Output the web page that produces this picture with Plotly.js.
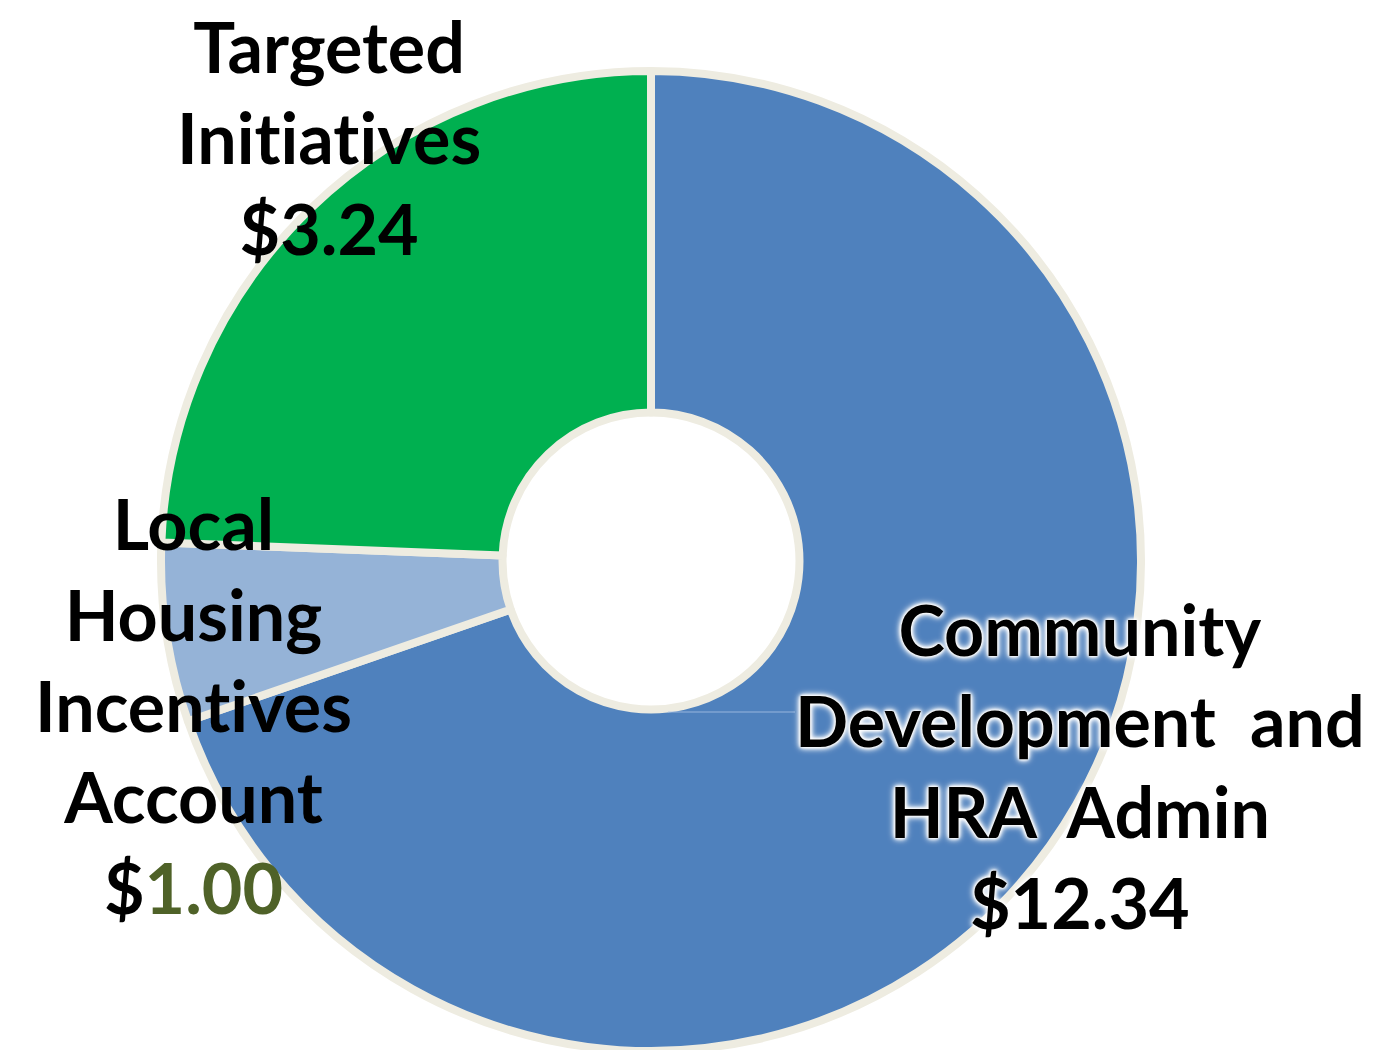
<!DOCTYPE html>
<html>
<head>
<meta charset="utf-8">
<script src="https://cdn.plot.ly/plotly-3.0.1.min.js"></script>
<style>
  html, body { margin: 0; padding: 0; overflow: hidden; background: #fff; }
  #chart { width: 1373px; height: 1070px; }
  text, tspan { font-variant-ligatures: none !important; font-feature-settings: "liga" 0, "clig" 0 !important; }
</style>
</head>
<body>
<div id="chart"></div>
<script>
// Categories and values
const categories = ["Community Development and HRA Admin", "Local Housing Incentives Account", "Targeted Initiatives"];
// slice shares as drawn in the picture (percent of the ring)
const sliceShares = [69.7, 5.9, 24.4];
// dollar amounts printed on the labels
const amounts = ["$12.34", "$1.00", "$3.24"];
const labelLines = [
  ["Community", "Development\u00a0 and", "HRA\u00a0 Admin"],
  ["Local", "Housing", "Incentives", "Account"],
  ["Targeted", "Initiatives"]
];
const colors = ["#4F81BD", "#95B3D7", "#00B050"];

const W = 1373, H = 1070;
const px = x => x / W;
const py = y => (H - y) / H;

const cx = 651, cy = 561, r = 490;

const trace = {
  type: "pie",
  labels: categories,
  values: sliceShares,
  sort: false,
  direction: "clockwise",
  rotation: 0,
  hole: 0.303,
  textinfo: "none",
  hoverinfo: "none",
  showlegend: false,
  marker: { colors: colors, line: { color: "#EEECE1", width: 8 } },
  domain: { x: [px(cx - r), px(cx + r)], y: [py(cy + r), py(cy - r)] }
};

const baseFont = { family: "Lato, 'Open Sans', sans-serif", size: 70, color: "#000000", weight: 700 };

function amountHtml(i) {
  if (i === 1) {
    return "$<span style='color:#4F6228'>" + amounts[i].slice(1) + "</span>";
  }
  return amounts[i];
}

const annPos = [
  { x: 1080, y: 766, shadow: "0 0 3px #fff, 0 0 3px #fff, 0 0 5px #fff, 0 0 6px #fff, 0 0 8px #fff" },
  { x: 194, y: 705, shadow: "none" },
  { x: 329, y: 137, shadow: "none" }
];

const annotations = categories.map((c, i) => ({
  xref: "paper", yref: "paper",
  x: px(annPos[i].x), y: py(annPos[i].y),
  xanchor: "center", yanchor: "middle",
  showarrow: false,
  align: "center",
  text: labelLines[i].join("<br>") + "<br>" + amountHtml(i),
  font: Object.assign({}, baseFont, { shadow: annPos[i].shadow })
}));

const layout = {
  width: W, height: H,
  margin: { l: 0, r: 0, t: 0, b: 0, pad: 0 },
  paper_bgcolor: "#ffffff",
  annotations: annotations,
  shapes: [{
    type: "line", xref: "paper", yref: "paper",
    x0: px(668), x1: px(795), y0: py(712), y1: py(712),
    line: { color: "rgba(170,195,230,0.8)", width: 1 }
  }]
};

Plotly.newPlot("chart", [trace], layout, { staticPlot: true, displayModeBar: false });
</script>
</body>
</html>
